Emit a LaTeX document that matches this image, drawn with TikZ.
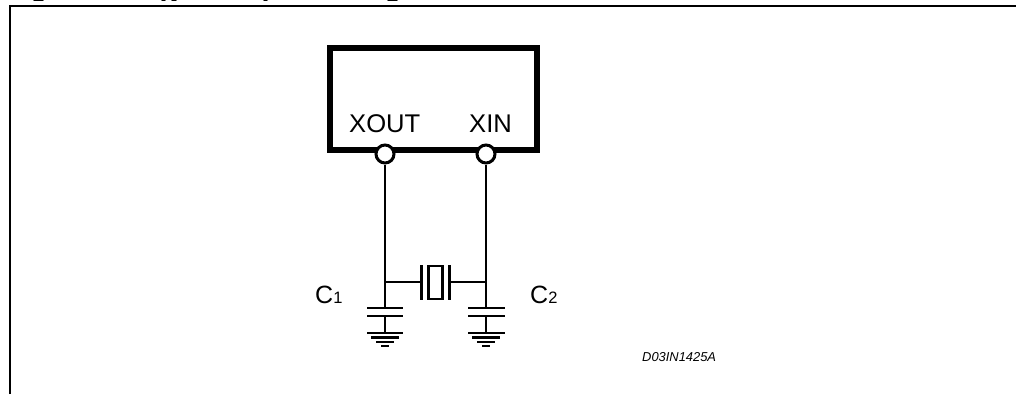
\documentclass[tikz,border=0pt]{standalone}
\usepackage{fontspec}
\setmainfont{Liberation Sans}
\tikzset{
  x=1pt,y=-1pt,
  wire/.style={line width=2.5pt,line cap=butt},
  plate/.style={line width=2.3pt},
  thickplate/.style={line width=3pt},
  chipbox/.style={draw,line width=5.9pt,minimum width=207pt,minimum height=102pt,inner sep=0pt,anchor=north west},
  pin/.style={circle,draw,fill=white,line width=3pt,minimum size=18pt,inner sep=0pt},
  lab/.style={inner sep=0pt,anchor=base west,font=\fontsize{25.6}{27}\selectfont},
  clab/.style={inner sep=0pt,anchor=base west,font=\fontsize{25}{27}\selectfont},
  tail/.style={line width=1.4pt,line cap=round}
}
\begin{document}
\begin{tikzpicture}
\useasboundingbox (0,0) rectangle (1016,394);
% frame
\coordinate (fb) at (10,394);
\coordinate (ftl) at (10,6);
\coordinate (fr) at (1016,6);
\draw[line width=2.5pt] (fb) -- (ftl) -- (fr);
% clipped title remnants
\coordinate (t1a) at (34,0.2); \coordinate (t1b) at (43,0.2);
\coordinate (t2a) at (162,0.3); \coordinate (t2b) at (165,0.3);
\coordinate (t2c) at (172,0.3); \coordinate (t2d) at (176,0.3);
\coordinate (t3a) at (264,0.3); \coordinate (t3b) at (267,0.3);
\coordinate (t4a) at (388,0.2); \coordinate (t4b) at (397,0.2);
\draw[tail] (t1a) -- (t1b);
\draw[tail] (t2a) -- (t2b);
\draw[tail] (t2c) -- (t2d);
\draw[tail] (t3a) -- (t3b);
\draw[tail] (t4a) -- (t4b);
% chip
\node[chipbox] (chip) at (327,45) {};
\node[lab] (xout) at (349,132) {XOUT};
\node[lab] (xin) at (469,132) {XIN};
% junctions
\coordinate (j1) at (385,282);
\coordinate (j2) at (486,282);
% left capacitor & ground
\coordinate (c1tl) at (367,307.7); \coordinate (c1tr) at (403,307.7); \coordinate (c1t) at (385,307.7);
\coordinate (c1bl) at (367,316); \coordinate (c1br) at (403,316); \coordinate (c1b) at (385,316);
\coordinate (g1l) at (367,333); \coordinate (g1r) at (403,333); \coordinate (g1) at (385,333);
\coordinate (g1al) at (371,337.5); \coordinate (g1ar) at (399,337.5);
\coordinate (g1bl) at (376,342); \coordinate (g1br) at (394,342);
\coordinate (g1cl) at (381,346); \coordinate (g1cr) at (389,346);
% right capacitor & ground
\coordinate (c2tl) at (468,307.7); \coordinate (c2tr) at (505,307.7); \coordinate (c2t) at (486,307.7);
\coordinate (c2bl) at (468,316); \coordinate (c2br) at (505,316); \coordinate (c2b) at (486,316);
\coordinate (g2l) at (468,333); \coordinate (g2r) at (505,333); \coordinate (g2) at (486,333);
\coordinate (g2al) at (472,337.5); \coordinate (g2ar) at (500,337.5);
\coordinate (g2bl) at (477,342); \coordinate (g2br) at (495,342);
\coordinate (g2cl) at (482,346); \coordinate (g2cr) at (490,346);
% crystal
\coordinate (xl) at (421.7,282); \coordinate (xlt) at (421.7,265); \coordinate (xlb) at (421.7,299.5);
\coordinate (xr) at (449.3,282); \coordinate (xrt) at (449.3,265); \coordinate (xrb) at (449.3,299.5);
\node[draw,line width=2.2pt,minimum width=14pt,minimum height=33pt,inner sep=0pt] (xtal) at (435.5,282.5) {};
% pins
\node[pin] (p1) at (385,154) {};
\node[pin] (p2) at (486,154) {};
% wires
\draw[wire] (p1.south) -- (c1t);
\draw[wire] (p2.south) -- (c2t);
\draw[wire] (j1) -- (xl);
\draw[wire] (xr) -- (j2);
\draw[wire] (c1b) -- (g1);
\draw[wire] (c2b) -- (g2);
\draw[thickplate] (xlt) -- (xlb);
\draw[thickplate] (xrt) -- (xrb);
\foreach \a/\b in {c1tl/c1tr,c1bl/c1br,g1l/g1r,g1al/g1ar,g1bl/g1br,g1cl/g1cr,c2tl/c2tr,c2bl/c2br,g2l/g2r,g2al/g2ar,g2bl/g2br,g2cl/g2cr}
  \draw[plate] (\a) -- (\b);
% labels
\node[clab] (c1) at (315,303) {C\fontsize{16.5}{18}\selectfont 1};
\node[clab] (c2) at (530,303) {C\fontsize{16.5}{18}\selectfont 2};
\node[inner sep=0pt,anchor=base west,font=\fontsize{12.9}{14}\selectfont\itshape] (ref) at (642,361) {D03IN1425A};
\end{tikzpicture}
\end{document}
